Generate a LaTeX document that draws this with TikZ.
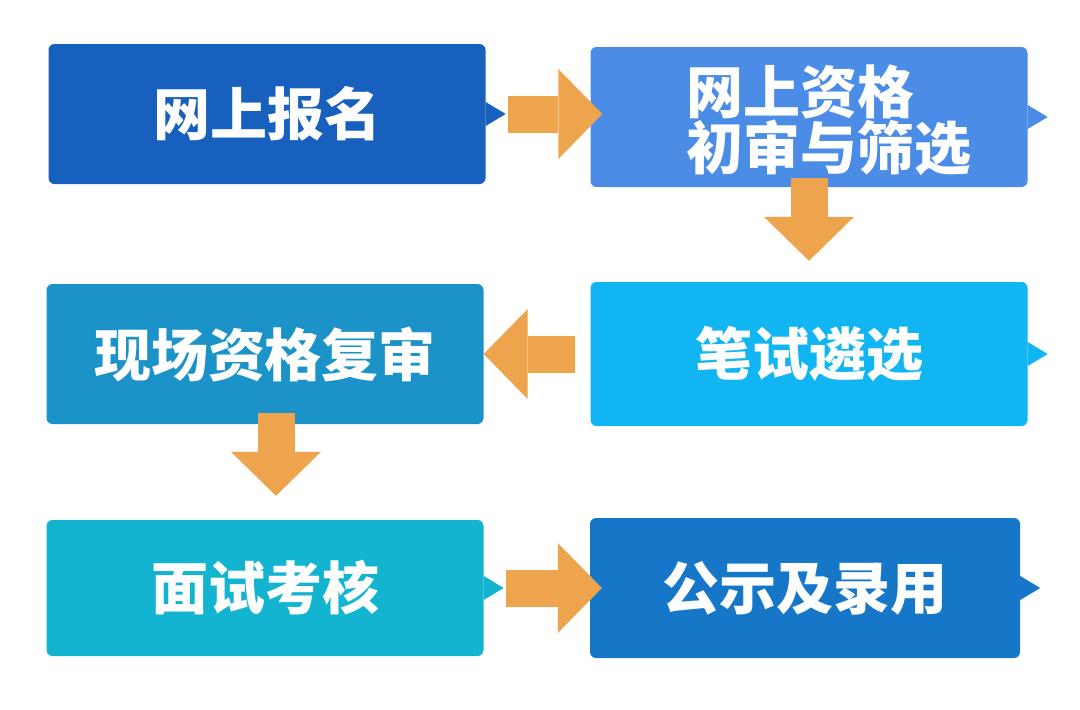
\documentclass[tikz,border=0pt]{standalone}
\usepackage{fontspec}
\newfontfamily\cjk{Noto Sans CJK SC}
\usetikzlibrary{arrows.meta}
\definecolor{cWeb}{RGB}{23,96,190}
\definecolor{cCheck}{RGB}{74,140,230}
\definecolor{cReview}{RGB}{27,147,200}
\definecolor{cWritten}{RGB}{16,181,242}
\definecolor{cInterview}{RGB}{18,180,207}
\definecolor{cNotice}{RGB}{22,119,201}
\definecolor{cArr}{RGB}{238,164,76}
\begin{document}
\begin{tikzpicture}[x=1pt,y=-1pt,font=\cjk\bfseries\fontsize{57}{56}\selectfont,
	box/.style={rectangle,rounded corners=6pt,minimum width=437pt,minimum height=140pt,inner sep=0pt,text=white},
	blk/.style={draw=cArr,line width=37pt,-{Triangle[length=44pt,width=90pt,line width=0pt]}}]
		\useasboundingbox (0,0) rectangle (1080,710);
		\node[box,fill=cWeb] (web) at (267,114) {网上报名};
		\node[box,fill=cCheck] (check) at (809,117) {};
		\node[text=white,align=left,inner sep=0pt] (checkT) at (829,120) {网上资格\\初审与筛选};
		\node[box,fill=cReview] (review) at (265,354) {现场资格复审};
		\node[box,fill=cWritten,minimum height=144pt] (written) at (809,354) {笔试遴选};
		\node[box,fill=cInterview,minimum height=136pt] (interview) at (265,588) {面试考核};
		\node[box,fill=cNotice,minimum width=430pt] (notice) at (805,588) {公示及录用};
		\foreach \b/\c in {web/cWeb,check/cCheck,written/cWritten,interview/cInterview,notice/cNotice}
			\fill[\c] ([yshift=12pt]\b.east) -- ++(20,12) -- ([yshift=-12pt]\b.east) -- cycle;
		\draw[blk] ([xshift=22pt]web.east) -- ([xshift=12pt]check.west |- web.east);
		\draw[blk] ([yshift=9pt]check.south) -- ([yshift=21pt]written.north);
		\draw[blk] ([xshift=-15pt]written.west) -- (review.east);
		\draw[blk] ([xshift=11pt,yshift=11pt]review.south) -- ([xshift=11pt,yshift=24pt]interview.north);
		\draw[blk] ([xshift=22pt]interview.east) -- ([xshift=12pt]notice.west);
	\end{tikzpicture}
\end{document}
